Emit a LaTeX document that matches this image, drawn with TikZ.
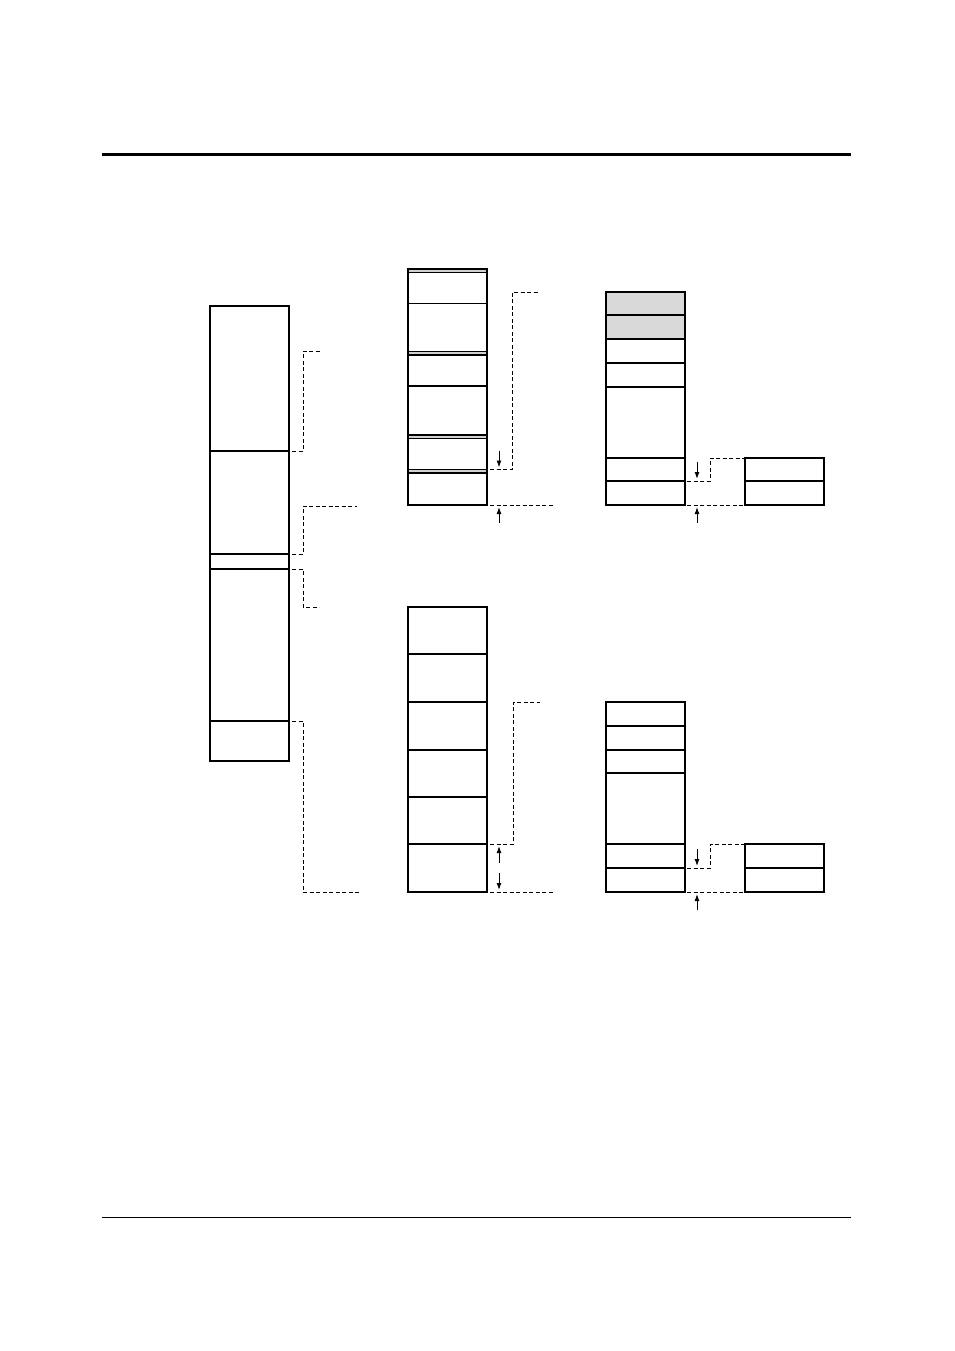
\documentclass[tikz,border=0pt]{standalone}
\usetikzlibrary{positioning,arrows.meta}

\tikzset{
	cell/.style={draw,line width=1.3pt,minimum width=79pt,inner sep=0pt,outer sep=0pt},
	band/.style={cell,line width=1pt,fill=black!18,minimum height=3.5pt},
	greycell/.style={cell,fill=black!15},
	frame/.style={line width=2.7pt},
	link/.style={line width=1pt,dash pattern=on 4pt off 2.5pt},
	tip/.style={line width=1pt,-{Latex[length=7pt,width=5pt]}},
}

\begin{document}
\begin{tikzpicture}[x=1pt,y=-1pt,node distance=0pt]
			\useasboundingbox (0,0) rectangle (954,1351);

			% page rules
			\draw[line width=3pt] (102,155) -- (851,155);
			\draw[line width=1pt] (102,1217) -- (851,1217);

			% memory map
			\node[cell,anchor=north west,minimum height=145pt] (l1) at (210,306) {};
			\node[cell,below=of l1,minimum height=103pt] (l2) {};
			\node[cell,below=of l2,minimum height=15pt] (l3) {};
			\node[cell,below=of l3,minimum height=152pt] (l4) {};
			\node[cell,below=of l4,minimum height=40pt] (l5) {};

			% upper block
			\node[band,anchor=north west] (mt1) at (408,269) {};
			\node[cell,below=of mt1,minimum height=31pt] (mt2) {};
			\node[cell,below=of mt2,minimum height=48pt] (mt3) {};
			\node[band,below=of mt3] (mt4) {};
			\node[cell,below=of mt4,minimum height=31pt] (mt5) {};
			\node[cell,below=of mt5,minimum height=49pt] (mt6) {};
			\node[band,below=of mt6] (mt7) {};
			\node[cell,below=of mt7,minimum height=31pt] (mt8) {};
			\node[band,below=of mt8] (mt9) {};
			\node[cell,below=of mt9,minimum height=32pt] (mt10) {};
			\draw[frame] (mt1.north west) rectangle (mt10.south east);

			% upper stack
			\node[greycell,anchor=north west,minimum height=23pt] (rt1) at (606,292) {};
			\node[greycell,below=of rt1,minimum height=24pt] (rt2) {};
			\node[cell,below=of rt2,minimum height=24pt] (rt3) {};
			\node[cell,below=of rt3,minimum height=24pt] (rt4) {};
			\node[cell,below=of rt4,minimum height=71pt] (rt5) {};
			\node[cell,below=of rt5,minimum height=23pt] (rt6) {};
			\node[cell,below=of rt6,minimum height=24pt] (rt7) {};
			\draw[frame] (rt1.north east) -- (rt1.north west) -- (rt7.south west) -- (rt7.south east);

			\node[cell,anchor=north west,minimum height=23pt] (st1) at (745,458) {};
			\node[cell,below=of st1,minimum height=24pt] (st2) {};
			\draw[frame] (st2.south west) -- (st2.south east);

			% lower block
			\node[cell,anchor=north west,minimum height=47pt] (mb1) at (408,607) {};
			\node[cell,below=of mb1,minimum height=48pt] (mb2) {};
			\node[cell,below=of mb2,minimum height=48pt] (mb3) {};
			\node[cell,below=of mb3,minimum height=47pt] (mb4) {};
			\node[cell,below=of mb4,minimum height=47pt] (mb5) {};
			\node[cell,below=of mb5,minimum height=48pt] (mb6) {};
			\draw[frame] (mb1.north west) rectangle (mb6.south east);

			% lower stack
			\node[cell,anchor=north west,minimum height=24pt] (rb1) at (606,702) {};
			\node[cell,below=of rb1,minimum height=24pt] (rb2) {};
			\node[cell,below=of rb2,minimum height=23pt] (rb3) {};
			\node[cell,below=of rb3,minimum height=71pt] (rb4) {};
			\node[cell,below=of rb4,minimum height=24pt] (rb5) {};
			\node[cell,below=of rb5,minimum height=24pt] (rb6) {};
			\draw[frame] (rb1.north west) -- (rb6.south west) -- (rb6.south east);

			\node[cell,anchor=north west,minimum height=24pt] (sb1) at (745,844) {};
			\node[cell,below=of sb1,minimum height=24pt] (sb2) {};
			\draw[frame] (sb2.south west) -- (sb2.south east);

			% free ends
			\coordinate (c1) at (320,351);
			\coordinate (c2) at (357,506);
			\coordinate (c3) at (319,607);
			\coordinate (c4) at (361,892);
			\coordinate (c5) at (538,292);
			\coordinate (c6) at (554,505);
			\coordinate (c7) at (540,702);
			\coordinate (c8) at (554,892);

			% memory map brackets
			\draw[link] ([xshift=3pt]l1.south east) -- ++(11,0) |- (c1);
			\draw[link] ([xshift=3pt]l3.north east) -- ++(11,0) |- (c2);
			\draw[link] ([xshift=3pt]l4.north east) -- ++(11,0) |- (c3);
			\draw[link] ([xshift=3pt]l5.north east) -- ++(11,0) |- (c4);

			% upper block
			\draw[link] ([xshift=3pt]mt9.north east) -- ++(22,0) |- (c5);
			\draw[link] ([xshift=3pt]mt10.south east) -- (c6 |- mt10.south);
			\draw[tip] ([xshift=12pt,yshift=19pt]mt9.north east) -- ([xshift=12pt,yshift=2pt]mt9.north east);
			\draw[tip] ([xshift=12pt,yshift=-18pt]mt10.south east) -- ([xshift=12pt,yshift=-2pt]mt10.south east);

			% upper stack
			\draw[link] ([xshift=2pt]rt6.south east) -- ++(23,0) |- (st1.north west);
			\draw[link] ([xshift=2pt]rt7.south east) -- (st2.south west);
			\draw[tip] ([xshift=12pt,yshift=19pt]rt6.south east) -- ([xshift=12pt,yshift=2pt]rt6.south east);
			\draw[tip] ([xshift=12pt,yshift=-18pt]rt7.south east) -- ([xshift=12pt,yshift=-2pt]rt7.south east);

			% lower block
			\draw[link] ([xshift=3pt]mb6.north east) -- ++(23,0) |- (c7);
			\draw[link] ([xshift=3pt]mb6.south east) -- (c8 |- mb6.south);
			\draw[tip] ([xshift=12pt,yshift=-19pt]mb6.north east) -- ([xshift=12pt,yshift=-2pt]mb6.north east);
			\draw[tip] ([xshift=12pt,yshift=19pt]mb6.south east) -- ([xshift=12pt,yshift=2pt]mb6.south east);

			% lower stack
			\draw[link] ([xshift=2pt]rb5.south east) -- ++(23,0) |- (sb1.north west);
			\draw[link] ([xshift=2pt]rb6.south east) -- (sb2.south west);
			\draw[tip] ([xshift=12pt,yshift=19pt]rb5.south east) -- ([xshift=12pt,yshift=2pt]rb5.south east);
			\draw[tip] ([xshift=12pt,yshift=-18pt]rb6.south east) -- ([xshift=12pt,yshift=-2pt]rb6.south east);
		\end{tikzpicture}
\end{document}
